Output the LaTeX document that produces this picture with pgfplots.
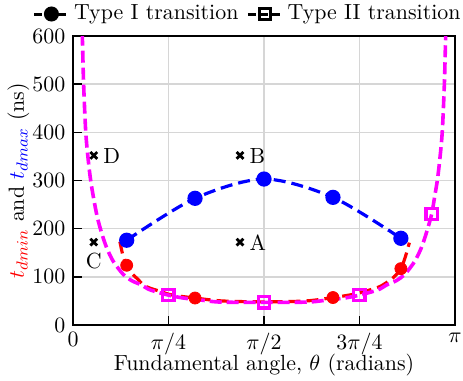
\documentclass[border=0pt,11pt]{standalone}
\usepackage{pgfplots}
\pgfplotsset{compat=1.18}
\definecolor{mag}{rgb}{1,0,1}
\definecolor{pblue}{rgb}{0,0,1}
\definecolor{pred}{rgb}{1,0,0}

% Switching-time boundaries against the fundamental angle (stored in degrees, labelled in radians)
\pgfplotstableread{
x y
4.0 640
4.4 598
5.0 501
6.0 401
7.2 342
8.3 301
9.6 266
11.4 225
13.5 191
15.9 160
19.0 132
23.7 105
27.7 92
32.3 83
36.3 73
45.0 62
52.0 56
60.0 52
67.6 48
78.0 47
90.0 47
102.0 47
112.4 48
120.0 52
128.0 56
135.0 62
143.7 73
147.7 83
152.3 92
156.3 105
161.0 132
164.1 160
166.5 191
169.0 230
170.4 266
171.7 301
172.8 342
174.0 401
175.0 501
175.6 598
176.0 640
}\typetwo

\pgfplotstableread{
x y
45 62
90 47
135 62
169 230
}\typetwomarks

\pgfplotstableread{
x y
22.1 173
23.5 145
25.3 124
27.7 107
30.6 95
33.1 83
36.0 77
40.2 71
45.0 64
50.0 60
57.5 56
70.0 50
90.0 48
110.0 50
122.5 57
130.0 62
135.3 67
140.0 73
144.7 80
149.4 93
152.0 103
154.5 117
156.5 140
158.5 171
}\tdmin

\pgfplotstableread{
x y
25.3 124
57.5 56
122.5 57
154.5 117
}\tdminmarks

\pgfplotstableread{
x y
25.3 176
57.5 263
90.0 303
122.5 265
154.5 180
}\tdmax

\begin{document}
\begin{tikzpicture}
\begin{axis}[
  scale only axis,
  width=191pt, height=144.5pt,
  xmin=0, xmax=180, ymin=0, ymax=600,
  xtick={0,45,90,135,180},
  xticklabels={$0$,$\pi/4$,$\pi/2$,$3\pi/4$,$\pi$},
  ytick={0,100,...,600},
  grid=major,
  grid style={black!16, line width=0.8pt},
  axis line style={line width=1pt},
  tick style={black, line width=0.8pt},
  xtick pos=bottom, ytick pos=left,
  xlabel={Fundamental angle, $\theta$ (radians)},
  ylabel={\textcolor{pred}{$t_{dmin}$} and \textcolor{pblue}{$t_{dmax}$} (ns)},
  xlabel style={yshift=8pt},
  ylabel style={yshift=-6pt},
  legend style={at={(0.46,1.0)}, anchor=center, yshift=11pt, draw=none, fill=none,
    legend columns=2, /tikz/every even column/.append style={column sep=2pt}},
  legend cell align=left,
]
\addlegendimage{black, line width=1.5pt, dash pattern=on 4pt off 2pt, mark=*, mark size=3pt, mark options={solid}}
\addlegendentry{Type I transition}
\addlegendimage{black, line width=1.5pt, dash pattern=on 4pt off 2pt, mark=square, mark size=2.8pt, mark options={solid, line width=1.6pt}}
\addlegendentry{Type II transition}

% t_dmax (upper branch)
\addplot[forget plot, pblue, line width=1.6pt, dash pattern=on 6pt off 3pt, smooth, mark=*, mark size=3pt, mark options={solid}] table {\tdmax};

% t_dmin (lower branch)
\addplot[forget plot, pred, line width=1.6pt, dash pattern=on 6pt off 3pt, smooth] table {\tdmin};
\addplot[forget plot, pred, only marks, mark=*, mark size=3pt] table {\tdminmarks};

% Type II boundary
\addplot[forget plot, mag, line width=1.8pt, dash pattern=on 6pt off 2.5pt, smooth] table {\typetwo};
\addplot[forget plot, mag, only marks, mark=square, mark size=2.8pt, mark options={line width=1.6pt}] table {\typetwomarks};

% Operating points
\addplot[forget plot, black, only marks, mark=x, mark size=2.4pt, mark options={line width=1.4pt},
  point meta=explicit symbolic, nodes near coords,
  every node near coord/.append style={anchor=west, xshift=0.5pt, yshift=-0.5pt}]
  table[meta=l] {
x y l
78.7 172 A
78.7 352 B
9.8 352 D
};
\addplot[forget plot, black, only marks, mark=x, mark size=2.4pt, mark options={line width=1.4pt},
  point meta=explicit symbolic, nodes near coords,
  every node near coord/.append style={anchor=north, yshift=-1pt}]
  table[meta=l] {
x y l
9.8 172 C
};
\end{axis}
% Page frame around the axis and its labels
\pgfresetboundingbox
\path ([shift={(-36.5pt,-28pt)}]current axis.south west) rectangle ++(231.5pt,190.5pt);
\end{tikzpicture}
\end{document}
